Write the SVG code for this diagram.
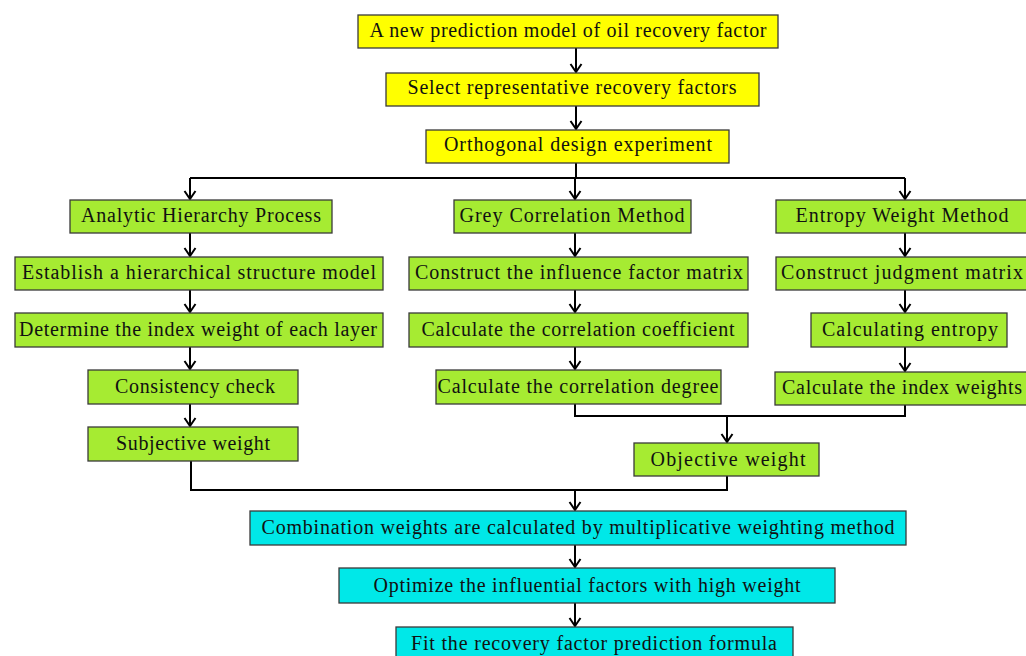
<svg xmlns="http://www.w3.org/2000/svg" width="1026" height="656" viewBox="0 0 1026 656">
<style>
.b{stroke:#3a3a3a;stroke-width:1.3}
.y{fill:#ffff00}.g{fill:#a6eb32}.c{fill:#00e8e8}
text{font-family:"Liberation Serif","Times New Roman",serif;font-size:20px;fill:#111;text-anchor:middle}
.l{fill:none;stroke:#000;stroke-width:2}
</style>
<defs>
<marker id="a" markerWidth="14" markerHeight="14" refX="11" refY="7" orient="auto" markerUnits="userSpaceOnUse" viewBox="0 0 14 14">
<polyline points="3,1.5 11,7 3,12.5" fill="none" stroke="#000" stroke-width="2"/>
</marker>
</defs>
<rect width="1026" height="656" fill="#fff"/>
<g id="connectors">
<line class="l" x1="576" y1="48" x2="576" y2="72" marker-end="url(#a)"/>
<line class="l" x1="576" y1="106" x2="576" y2="129" marker-end="url(#a)"/>
<polyline class="l" points="576,163 576,178"/>
<polyline class="l" points="190,178 905,178"/>
<line class="l" x1="190" y1="178" x2="190" y2="199" marker-end="url(#a)"/>
<line class="l" x1="575" y1="178" x2="575" y2="199" marker-end="url(#a)"/>
<line class="l" x1="905" y1="178" x2="905" y2="199" marker-end="url(#a)"/>
<line class="l" x1="190" y1="233" x2="190" y2="256" marker-end="url(#a)"/>
<line class="l" x1="575" y1="233" x2="575" y2="256" marker-end="url(#a)"/>
<line class="l" x1="905" y1="233" x2="905" y2="256" marker-end="url(#a)"/>
<line class="l" x1="190" y1="290" x2="190" y2="312" marker-end="url(#a)"/>
<line class="l" x1="575" y1="290" x2="575" y2="312" marker-end="url(#a)"/>
<line class="l" x1="905" y1="290" x2="905" y2="312" marker-end="url(#a)"/>
<line class="l" x1="190" y1="347" x2="190" y2="369" marker-end="url(#a)"/>
<line class="l" x1="575" y1="347" x2="575" y2="369" marker-end="url(#a)"/>
<line class="l" x1="905" y1="347" x2="905" y2="371" marker-end="url(#a)"/>
<line class="l" x1="190" y1="404" x2="190" y2="426" marker-end="url(#a)"/>
<polyline class="l" points="575,404 575,416 905,416 905,405"/>
<line class="l" x1="727" y1="416" x2="727" y2="442" marker-end="url(#a)"/>
<polyline class="l" points="191,461 191,490 727,490 727,476"/>
<line class="l" x1="575" y1="490" x2="575" y2="510" marker-end="url(#a)"/>
<line class="l" x1="575" y1="545" x2="575" y2="567" marker-end="url(#a)"/>
<line class="l" x1="575" y1="603" x2="575" y2="626" marker-end="url(#a)"/>
</g>
<g id="n1"><rect class="b y" x="358" y="15" width="420" height="33"/><text x="568" y="37" textLength="397" lengthAdjust="spacing">A new prediction model of oil recovery factor</text></g>
<g id="n2"><rect class="b y" x="386" y="73" width="373" height="33"/><text x="572" y="94" textLength="329" lengthAdjust="spacing">Select representative recovery factors</text></g>
<g id="n3"><rect class="b y" x="426" y="130" width="303" height="33"/><text x="578" y="151" textLength="268" lengthAdjust="spacing">Orthogonal design experiment</text></g>
<g id="ahp"><rect class="b g" x="70" y="200" width="262" height="33"/><text x="201" y="222" textLength="240" lengthAdjust="spacing">Analytic Hierarchy Process</text></g>
<g id="gcm"><rect class="b g" x="454" y="200" width="237" height="33"/><text x="572" y="222" textLength="225" lengthAdjust="spacing">Grey Correlation Method</text></g>
<g id="ewm"><rect class="b g" x="776" y="200" width="252" height="33"/><text x="902" y="222" textLength="213" lengthAdjust="spacing">Entropy Weight Method</text></g>
<g id="a1"><rect class="b g" x="15" y="257" width="368" height="33"/><text x="199" y="279" textLength="354" lengthAdjust="spacing">Establish a hierarchical structure model</text></g>
<g id="g1"><rect class="b g" x="409" y="257" width="339" height="33"/><text x="579" y="279" textLength="328" lengthAdjust="spacing">Construct the influence factor matrix</text></g>
<g id="e1"><rect class="b g" x="776" y="257" width="252" height="33"/><text x="902" y="279" textLength="242" lengthAdjust="spacing">Construct judgment matrix</text></g>
<g id="a2"><rect class="b g" x="15" y="313" width="368" height="34"/><text x="198" y="336" textLength="358" lengthAdjust="spacing">Determine the index weight of each layer</text></g>
<g id="g2"><rect class="b g" x="409" y="313" width="339" height="34"/><text x="578" y="336" textLength="313" lengthAdjust="spacing">Calculate the correlation coefficient</text></g>
<g id="e2"><rect class="b g" x="811" y="313" width="196" height="34"/><text x="910" y="336" textLength="176" lengthAdjust="spacing">Calculating entropy</text></g>
<g id="a3"><rect class="b g" x="88" y="370" width="210" height="34"/><text x="195" y="393" textLength="160" lengthAdjust="spacing">Consistency check</text></g>
<g id="g3"><rect class="b g" x="436" y="370" width="285" height="34"/><text x="578" y="393" textLength="281" lengthAdjust="spacing">Calculate the correlation degree</text></g>
<g id="e3"><rect class="b g" x="775" y="372" width="252" height="33"/><text x="902" y="394" textLength="240" lengthAdjust="spacing">Calculate the index weights</text></g>
<g id="sw"><rect class="b g" x="88" y="427" width="210" height="34"/><text x="193" y="450" textLength="154" lengthAdjust="spacing">Subjective weight</text></g>
<g id="ow"><rect class="b g" x="634" y="443" width="185" height="33"/><text x="728" y="466" textLength="155" lengthAdjust="spacing">Objective weight</text></g>
<g id="cw"><rect class="b c" x="250" y="511" width="656" height="34"/><text x="578" y="534" textLength="633" lengthAdjust="spacing">Combination weights are calculated by multiplicative weighting method</text></g>
<g id="op"><rect class="b c" x="339" y="568" width="496" height="35"/><text x="587" y="592" textLength="427" lengthAdjust="spacing">Optimize the influential factors with high weight</text></g>
<g id="fit"><rect class="b c" x="396" y="627" width="397" height="34"/><text x="594" y="650" textLength="366" lengthAdjust="spacing">Fit the recovery factor prediction formula</text></g>
</svg>
